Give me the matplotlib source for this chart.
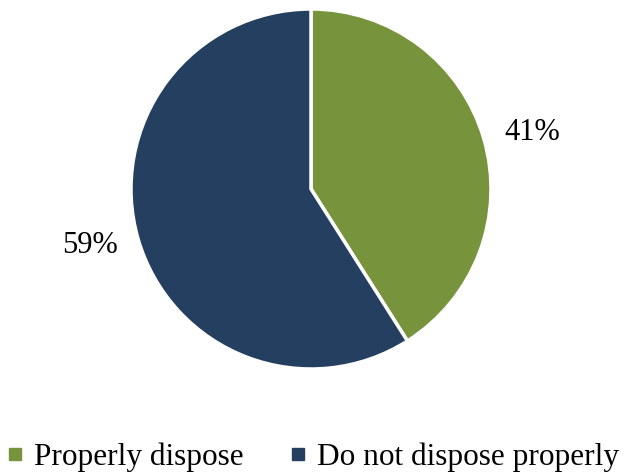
import matplotlib.pyplot as plt
from matplotlib.lines import Line2D

labels = ["Properly dispose", "Do not dispose properly"]
values = [41, 59]
colors = ["#77933C", "#253F60"]

plt.rcParams['font.family'] = ['Liberation Serif', 'DejaVu Serif']

fig = plt.figure(figsize=(6.26, 4.74), dpi=100)
# pie centre ~ (311, 189) px, radius ~180 px
cx, cy, r = 311, 474 - 189, 180
ax = fig.add_axes([(cx - r) / 626, (cy - r) / 474, 2 * r / 626, 2 * r / 474])

wedges, texts = ax.pie(values, colors=colors, startangle=90, counterclock=False,
                       labels=[f"{v}%" for v in values], labeldistance=1.12,
                       wedgeprops=dict(edgecolor='white', linewidth=2.5),
                       textprops=dict(fontsize=22))
ax.set_xlim(-1, 1)
ax.set_ylim(-1, 1)
ax.set_aspect('equal')
ax.axis('off')

handles = [Line2D([0], [0], marker='s', linestyle='', markersize=8,
                  markerfacecolor=c, markeredgecolor=c) for c in colors]
fig.legend(handles, labels, loc='lower center', bbox_to_anchor=(0.5, -0.055),
           ncol=2, frameon=False, fontsize=22.5, handlelength=0.5,
           handletextpad=0.35, columnspacing=1.5)

fig.savefig("out.png", dpi=100)
